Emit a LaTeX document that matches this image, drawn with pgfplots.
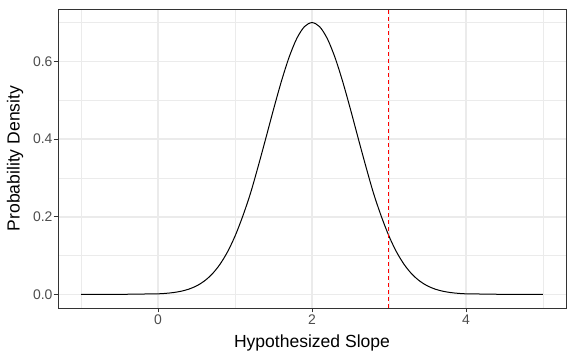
\documentclass[border=0pt]{standalone}
\usepackage{pgfplots}
\pgfplotsset{compat=1.18}
\usepackage{fontspec}
\setmainfont{Liberation Sans}
\definecolor{grey20}{HTML}{333333}
\definecolor{grey30}{HTML}{4D4D4D}
\definecolor{grey92}{HTML}{EBEBEB}
\begin{document}
\begin{tikzpicture}
\path[use as bounding box] (-58bp,-52bp) rectangle (518bp,308bp);
\begin{axis}[
  at={(0,0)}, anchor=south west,
  scale only axis, width=508bp, height=299bp,
  xmin=-1.3, xmax=5.3, ymin=-0.035, ymax=0.735,
  xtick={0,2,4}, ytick={0,0.2,0.4,0.6},
  minor xtick={-1,1,3,5}, minor ytick={0.1,0.3,0.5,0.7},
  xticklabels={0,2,4}, yticklabels={0.0,0.2,0.4,0.6},
  grid=both,
  major grid style={grey92, line width=1.6bp},
  minor grid style={grey92, line width=0.8bp},
  axis line style={grey20, line width=0.8bp},
  tick style={grey20, line width=0.8bp},
  major tick length=4.4bp,
  minor tick length=0pt,
  tick align=outside,
  xtick pos=bottom, ytick pos=left,
  ticklabel style={font=\fontsize{14}{16}\selectfont, text=grey30},
  xticklabel style={inner sep=1bp, yshift=-1bp},
  yticklabel style={inner sep=1bp},
  /pgf/number format/assume math mode=true,
  xlabel={Hypothesized Slope}, ylabel={Probability Density},
  label style={font=\fontsize{17.6}{20}\selectfont},
  xlabel style={at={(axis description cs:0.5,-0.117)}, anchor=center},
  ylabel style={at={(axis description cs:-0.0846,0.5)}, anchor=center},
]
\addplot[black, line width=1bp, smooth] coordinates {
(-1.0,0.0000)(-0.8,0.00002)(-0.6,0.0001)(-0.4,0.0004)(-0.2,0.0010)
(0.0,0.0015)(0.1,0.0027)(0.2,0.0048)(0.3,0.0082)(0.4,0.0136)
(0.5,0.0219)(0.6,0.0343)(0.7,0.0519)(0.8,0.0763)(0.9,0.1087)
(1.0,0.1502)(1.1,0.2013)(1.2,0.2600)(1.3,0.3293)(1.4,0.4022)
(1.5,0.4765)(1.6,0.5472)(1.7,0.6095)(1.8,0.6582)(1.9,0.6893)
(2.0,0.7000)(2.1,0.6893)(2.2,0.6582)(2.3,0.6095)(2.4,0.5472)
(2.5,0.4765)(2.6,0.4022)(2.7,0.3293)(2.8,0.2600)(2.9,0.2013)
(3.0,0.1502)(3.1,0.1087)(3.2,0.0763)(3.3,0.0519)(3.4,0.0343)
(3.5,0.0219)(3.6,0.0136)(3.7,0.0082)(3.8,0.0048)(3.9,0.0027)
(4.0,0.0015)(4.2,0.0010)(4.4,0.0004)(4.6,0.0001)(4.8,0.00002)(5.0,0.0000)
};
\addplot[color={rgb,255:red,255;green,0;blue,0}, line width=1bp, dash pattern=on 4bp off 3bp] coordinates {(3,-0.035)(3,0.735)};
\end{axis}
\end{tikzpicture}
\end{document}
